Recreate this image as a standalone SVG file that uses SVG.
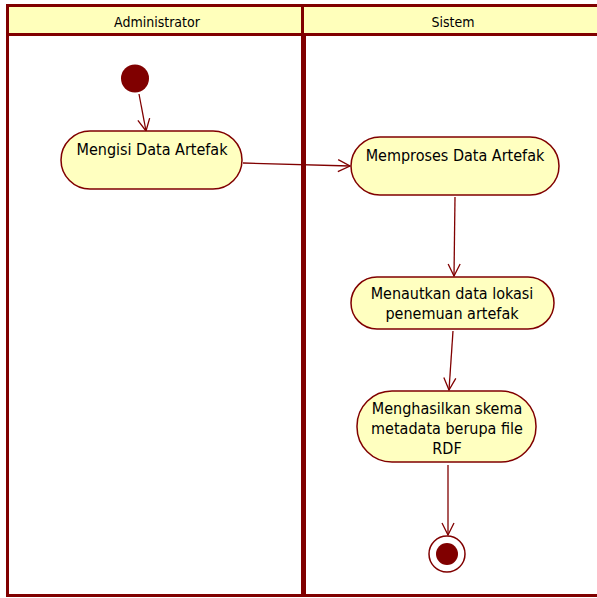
<svg xmlns="http://www.w3.org/2000/svg" width="597" height="598" viewBox="0 0 597 598">
  <style>
    .lane { fill: #ffffff; stroke: none; }
    .head { fill: #ffffbb; stroke: none; }
    .frame { stroke: #800000; fill: none; }
    .act { fill: #ffffc0; stroke: #800000; stroke-width: 1.5; }
    .lbl { font-family: "DejaVu Sans Condensed", "DejaVu Sans", sans-serif; font-size: 16px; fill: #000000; text-anchor: middle; }
    .hd { font-size: 14px; }
    .flow { stroke: #800000; stroke-width: 1.3; fill: none; marker-end: url(#open); }
  </style>
  <defs>
    <marker id="open" viewBox="0 0 14 14" refX="13" refY="7" markerWidth="14" markerHeight="14" markerUnits="userSpaceOnUse" orient="auto">
      <path d="M1,1 L13,7 L1,13" fill="none" stroke="#800000" stroke-width="1.3"/>
    </marker>
  </defs>

  <!-- swimlanes -->
  <g id="lanes">
    <rect class="lane" x="7" y="5" width="592" height="591"/>
    <rect class="head" x="7" y="5" width="592" height="30"/>
    <line class="frame" x1="7.5" y1="4" x2="7.5" y2="597" stroke-width="3"/>
    <line class="frame" x1="6" y1="5.5" x2="597" y2="5.5" stroke-width="3"/>
    <line class="frame" x1="6" y1="34.5" x2="597" y2="34.5" stroke-width="3"/>
    <line class="frame" x1="6" y1="595.5" x2="597" y2="595.5" stroke-width="3"/>
    <line class="frame" x1="302.5" y1="4" x2="302.5" y2="36" stroke-width="3"/>
    <line class="frame" x1="303.5" y1="36" x2="303.5" y2="597" stroke-width="5"/>
    <text class="lbl hd" x="157" y="27">Administrator</text>
    <text class="lbl hd" x="453" y="27">Sistem</text>
  </g>

  <!-- connectors -->
  <g id="connectors">
    <line class="flow" x1="139" y1="94" x2="146" y2="131"/>
    <line class="flow" x1="243" y1="163" x2="350" y2="166"/>
    <line class="flow" x1="455" y1="197" x2="454" y2="276"/>
    <line class="flow" x1="453" y1="331" x2="449" y2="390"/>
    <line class="flow" x1="448" y1="465" x2="448" y2="535"/>
  </g>

  <g id="start">
    <circle cx="135" cy="78.5" r="14" fill="#800000"/>
  </g>

  <g id="mengisi">
    <rect class="act" x="61" y="131" width="181" height="58" rx="29" ry="29"/>
    <text class="lbl" x="152" y="155">Mengisi Data Artefak</text>
  </g>

  <g id="memproses">
    <rect class="act" x="351" y="137" width="208" height="58" rx="29" ry="29"/>
    <text class="lbl" x="455" y="161">Memproses Data Artefak</text>
  </g>

  <g id="menautkan">
    <rect class="act" x="351" y="277" width="203" height="52" rx="26" ry="26"/>
    <text class="lbl" x="452" y="299">Menautkan data lokasi</text>
    <text class="lbl" x="452" y="319">penemuan artefak</text>
  </g>

  <g id="menghasilkan">
    <rect class="act" x="357" y="391" width="179" height="71" rx="35" ry="35"/>
    <text class="lbl" x="447" y="414">Menghasilkan skema</text>
    <text class="lbl" x="447" y="434">metadata berupa file</text>
    <text class="lbl" x="447" y="454">RDF</text>
  </g>

  <g id="end">
    <circle cx="447" cy="554" r="18" fill="#ffffff" stroke="#800000" stroke-width="1.5"/>
    <circle cx="447" cy="554" r="11" fill="#800000"/>
  </g>
</svg>
